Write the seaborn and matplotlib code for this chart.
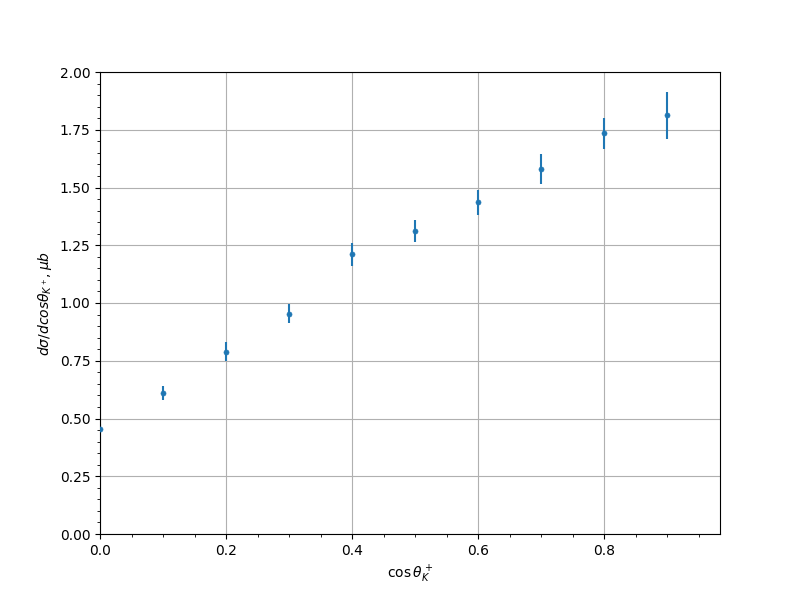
import numpy as np
import pandas as pd
import matplotlib
matplotlib.use("Agg")
import matplotlib.pyplot as plt
import seaborn as sns

# cross section vs cos(theta_K+)
cos_theta = [0.0, 0.1, 0.2, 0.3, 0.4, 0.5, 0.6, 0.7, 0.8, 0.9]
dsigma = [0.456, 0.612, 0.790, 0.954, 1.210, 1.310, 1.436, 1.579, 1.735, 1.813]
dsigma_err = [0.02, 0.030, 0.040, 0.040, 0.048, 0.048, 0.054, 0.065, 0.068, 0.101]

df = pd.DataFrame({'cos': cos_theta, 'xs': dsigma, 'err': dsigma_err})

fig, ax = plt.subplots(figsize=(8, 6), dpi=100)
ax.errorbar(df['cos'], df['xs'], yerr=df['err'], fmt='none', ecolor='C0')
sns.scatterplot(data=df, x='cos', y='xs', marker='o', s=13, color='C0',
                edgecolor='C0', linewidth=0.5, ax=ax, zorder=3)

ax.set_xlim(0, 0.984)
ax.set_ylim(0, 2.0)
ax.minorticks_on()
ax.grid(True, which='major')
ax.set_xlabel(r'$\cos\theta_K^+$')
ax.set_ylabel(r'$d\sigma/dcos\theta_{K^+}, \mu b$')

plt.savefig('out.png')
